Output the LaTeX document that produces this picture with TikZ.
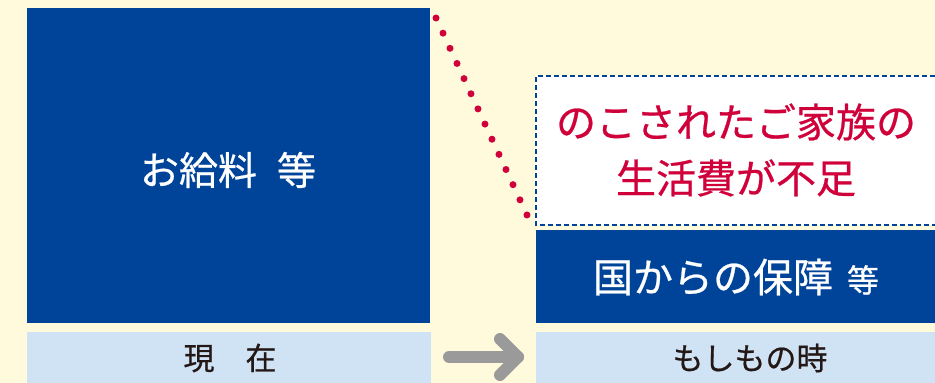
\documentclass[tikz,border=0pt]{standalone}
\usepackage{fontspec}
\setmainfont{Noto Sans CJK JP}[FakeBold=0.6]
\definecolor{bgcream}{HTML}{FFFADC}
\definecolor{navy}{HTML}{00449A}
\definecolor{lightblue}{HTML}{D0E3F5}
\definecolor{redtxt}{HTML}{D0003A}
\definecolor{greyarrow}{HTML}{9A9A9A}
\definecolor{darktxt}{HTML}{231815}
\begin{document}
\begin{tikzpicture}[x=1pt,y=-1pt,
  bluebox/.style={fill=navy,draw=none},
  labelbox/.style={fill=lightblue,draw=none},
  whitetxt/.style={text=white,font=\fontsize{39}{44}\selectfont},
  labeltxt/.style={text=darktxt,font=\fontsize{31}{36}\selectfont},
  redlines/.style={text=redtxt,align=center,font=\fontsize{40}{56}\selectfont}]
\fill[bgcream] (0,0) rectangle (935,383);
\useasboundingbox (0,0) rectangle (935,383);
% left column
\fill[bluebox] (27,8) rectangle (430,323);
\node[whitetxt] (pay) at (228,170) {お給料\hspace{20pt}等};
\fill[labelbox] (27,332) rectangle (431,383);
\node[labeltxt] (now) at (230,358) {現　在};
% right column
\fill[white] (536,76) rectangle (935,225);
\draw[navy,line width=2.4pt,dash pattern=on 5pt off 3pt] (935,76) -- (536,76) -- (536,225) -- (935,225);
\node[redlines] (short) at (736,150) {のこされたご家族の\\生活費が不足};
\fill[bluebox] (536,230) rectangle (935,323);
\node[whitetxt,font=\fontsize{40}{44}\selectfont] (gov) at (736,277) {国からの保障\hspace{14pt}{\fontsize{32}{36}\selectfont 等}};
\fill[labelbox] (536,332) rectangle (935,383);
\node[labeltxt] (then) at (750,358) {もしもの時};
% dotted line
\coordinate (d1) at (436,18);
\coordinate (d2) at (527,215);
\draw[redtxt,line width=7pt,line cap=round,dash pattern=on 0pt off 16.69pt] (d1) -- (d2);
% arrow
\coordinate (a1) at (449,357);
\coordinate (a2) at (518,357);
\draw[greyarrow,line width=12pt,line cap=round,line join=round] (a1) -- (a2);
\draw[greyarrow,line width=12pt,line cap=round,line join=round] (500,339) -- (a2) -- (500,375);
\end{tikzpicture}
\end{document}
